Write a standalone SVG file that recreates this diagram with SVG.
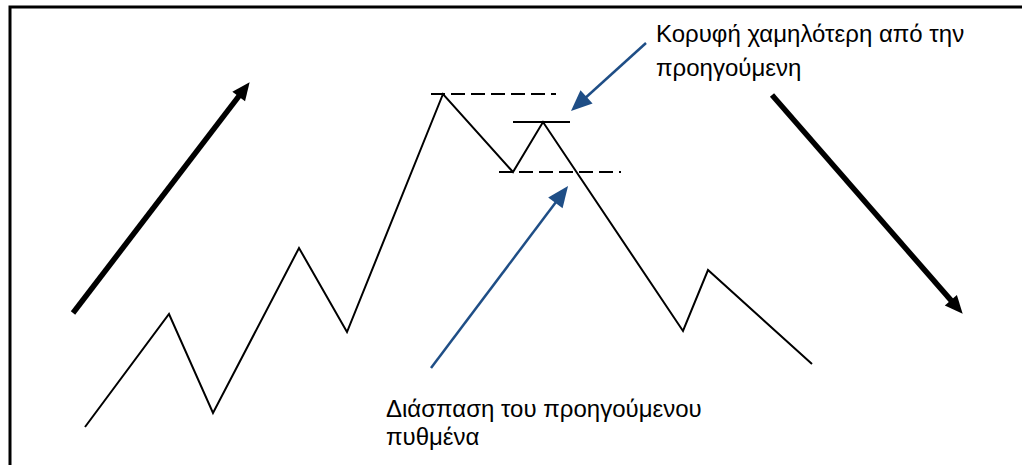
<svg xmlns="http://www.w3.org/2000/svg" width="1022" height="465" viewBox="0 0 1022 465">
<style>
.frame{fill:none;stroke:#000;stroke-width:3}
.price{fill:none;stroke:#000;stroke-width:2;stroke-linejoin:miter}
.dash{fill:none;stroke:#000;stroke-width:2;stroke-dasharray:14 6}
.solid{fill:none;stroke:#000;stroke-width:2}
.trend{fill:none;stroke:#000;stroke-width:5.5}
.callout{fill:none;stroke:#1F4E86;stroke-width:2.5}
.lbl{font-family:"Liberation Sans",Arial,sans-serif;font-size:24px;fill:#000}
</style>
<defs>
<marker id="blackHead" markerUnits="userSpaceOnUse" markerWidth="40" markerHeight="40" refX="0" refY="0" orient="auto" overflow="visible">
<path d="M-1,-8 L17,0 L-1,8 z" fill="#000"/>
</marker>
<marker id="blueHead" markerUnits="userSpaceOnUse" markerWidth="40" markerHeight="40" refX="0" refY="0" orient="auto" overflow="visible">
<path d="M-1,-9 L20,0 L-1,9 z" fill="#1F4E86"/>
</marker>
</defs>
<path class="frame" d="M10,465 L10,7 L1022,7"/>
<g id="price-line">
<polyline class="price" points="85,427 169,314 213,413 299,248 347,332 443,94 513,172 543,122 683,331 708,270 812,364"/>
</g>
<g id="levels">
<line class="dash" x1="431" y1="94" x2="556" y2="94"/>
<line class="solid" x1="513" y1="122" x2="570" y2="122"/>
<line class="dash" x1="499" y1="172" x2="621" y2="172"/>
</g>
<g id="connectors">
<line class="trend" x1="73" y1="313" x2="239.3" y2="95.7" marker-end="url(#blackHead)"/>
<line class="trend" x1="772" y1="95" x2="951.5" y2="300.9" marker-end="url(#blackHead)"/>
<line class="callout" x1="646" y1="43" x2="585.8" y2="97.5" marker-end="url(#blueHead)"/>
<line class="callout" x1="431" y1="368" x2="556" y2="202" marker-end="url(#blueHead)"/>
</g>
<g id="label-top">
<text class="lbl" x="656" y="42">Κορυφή χαμηλότερη από την</text>
<text class="lbl" x="656" y="76">προηγούμενη</text>
</g>
<g id="label-bottom">
<text class="lbl" x="386" y="417">Διάσπαση του προηγούμενου</text>
<text class="lbl" x="386" y="445">πυθμένα</text>
</g>
</svg>
